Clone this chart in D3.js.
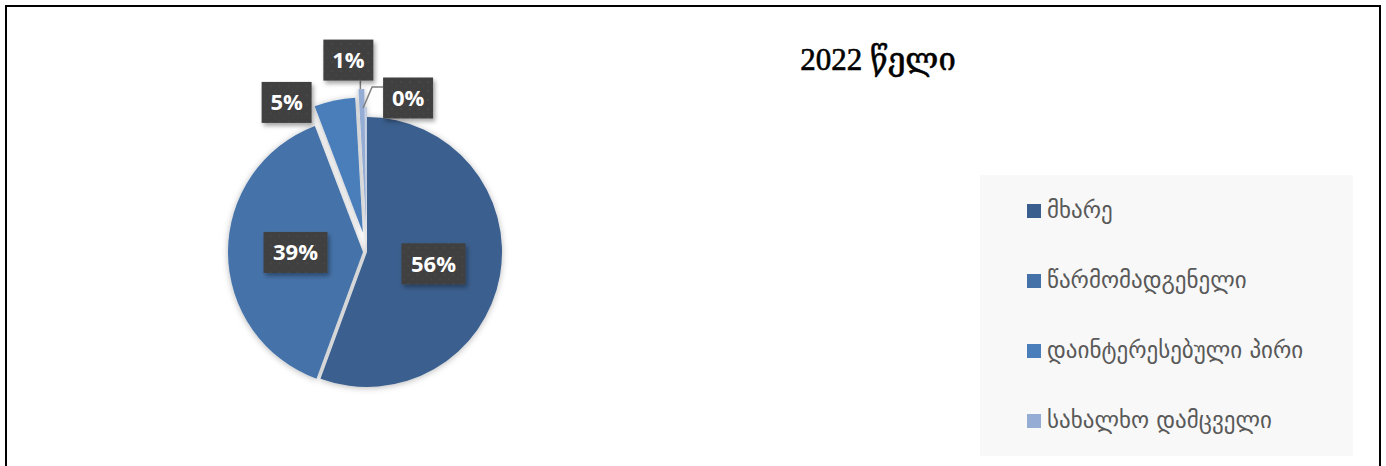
<!DOCTYPE html>
<meta charset="utf-8">
<title>2022 წელი</title>
<script src="https://d3js.org/d3.v7.min.js"></script>
<style>
  body { margin: 0; background: #fff; }
</style>
<body>
<svg width="1386" height="466"></svg>
<script>

  // chart data (shares in percent)
  var title = "2022 წელი";
  var categories = ["მხარე", "წარმომადგენელი", "დაინტერესებული პირი", "სახალხო დამცველი", ""];
  var values = [55.6, 38.6, 4.9, 0.7, 0.2];
  var legendNames = categories.slice(0, 4);

  var colors = ["#3a5f8e", "#4472a8", "#4a7ebb", "#95acd4", "#b9c7e2"];
  var explode = [0, 4, 20, 28, 10];

  var svg = d3.select("svg");
  var defs = svg.append("defs");

  // soft shadow under the pie
  var pieShadow = defs.append("filter").attr("id", "pieShadow")
      .attr("x", "-20%").attr("y", "-20%").attr("width", "140%").attr("height", "140%");
  pieShadow.append("feDropShadow")
      .attr("dx", 0).attr("dy", 1).attr("stdDeviation", 3)
      .attr("flood-color", "#000").attr("flood-opacity", 0.28);

  var boxShadow = defs.append("filter").attr("id", "boxShadow")
      .attr("x", "-30%").attr("y", "-30%").attr("width", "160%").attr("height", "160%");
  boxShadow.append("feDropShadow")
      .attr("dx", 2).attr("dy", 3).attr("stdDeviation", 2)
      .attr("flood-color", "#000").attr("flood-opacity", 0.35);

  // dotted texture for the label boxes
  var pat = defs.append("pattern").attr("id", "dots")
      .attr("patternUnits", "userSpaceOnUse").attr("width", 9).attr("height", 9);
  pat.append("rect").attr("width", 9).attr("height", 9).attr("fill", "#3f3f3f");
  pat.append("circle").attr("cx", 2).attr("cy", 2).attr("r", 1).attr("fill", "#4b4b4b");
  pat.append("circle").attr("cx", 6.5).attr("cy", 6.5).attr("r", 1).attr("fill", "#474747");

  // outer frame
  svg.append("rect")
      .attr("x", 6).attr("y", 6).attr("width", 1374).attr("height", 480)
      .attr("fill", "none").attr("stroke", "#000").attr("stroke-width", 2);

  // title
  svg.append("text")
      .attr("x", 878).attr("y", 70)
      .attr("text-anchor", "middle")
      .style("font-family", "'Liberation Serif', 'DejaVu Serif', serif")
      .style("font-size", "31px")
      .attr("fill", "#000")
      .attr("stroke", "#000")
      .attr("stroke-width", 0.6)
      .text(title);

  // pie
  var cx = 367, cy = 252, R = 135;
  var pie = d3.pie().sort(null).value(function(d) { return d; });
  var arcs = pie(values);
  var arc = d3.arc().innerRadius(0).outerRadius(R);

  function mid(d) { return (d.startAngle + d.endAngle) / 2; }
  function offset(d, i) {
    var a = mid(d);
    return [Math.sin(a) * explode[i], -Math.cos(a) * explode[i]];
  }

  var g = svg.append("g").attr("transform", "translate(" + cx + "," + cy + ")");

  g.append("g")
      .attr("filter", "url(#pieShadow)")
    .selectAll("path")
    .data(arcs)
    .enter().append("path")
      .attr("transform", function(d, i) { return "translate(" + offset(d, i) + ")"; })
      .attr("d", arc)
      .attr("fill", function(d, i) { return colors[i]; });

  // labels
  var labelArc = d3.arc().innerRadius(R * 0.5).outerRadius(R * 0.5);
  var labelNudge = { 2: [-48, 2], 3: [-13, -29], 4: [42, -9] };

  var labels = arcs.map(function(d, i) {
    var o = offset(d, i), a = mid(d);
    var text = Math.round(values[i]) + "%";
    var w = text.length > 2 ? 64 : 50, h = 41;
    if (labelNudge[i]) {
      var ax = o[0] + Math.sin(a) * R, ay = o[1] - Math.cos(a) * R;
      return { text: text, w: w, h: h, x: ax + labelNudge[i][0], y: ay + labelNudge[i][1], ax: ax, ay: ay, i: i };
    }
    var c = labelArc.centroid(d);
    return { text: text, w: w, h: h, x: c[0] + o[0], y: c[1] + o[1], i: i };
  });

  // leader lines
  labels.forEach(function(l) {
    var pts = null;
    if (l.i === 3) pts = [[l.ax - 1, l.ay], [l.ax - 1, l.y + l.h / 2]];
    if (l.i === 4) pts = [[l.ax - 3, l.ay + 1], [l.ax + 6, l.y - 11], [l.x - l.w / 2, l.y - 11]];
    if (pts) {
      g.append("path")
          .attr("d", d3.line()(pts))
          .attr("fill", "none")
          .attr("stroke", "#7f7f7f")
          .attr("stroke-width", 1.5);
    }
  });

  var lab = g.selectAll(".lab")
    .data(labels)
    .enter().append("g")
      .attr("class", "lab")
      .attr("transform", function(d) { return "translate(" + d.x + "," + d.y + ")"; });

  lab.append("rect")
      .attr("x", function(d) { return -d.w / 2; })
      .attr("y", function(d) { return -d.h / 2; })
      .attr("width", function(d) { return d.w; })
      .attr("height", function(d) { return d.h; })
      .attr("fill", "url(#dots)")
      .attr("filter", "url(#boxShadow)");

  lab.append("text")
      .attr("text-anchor", "middle")
      .attr("dy", "0.36em")
      .style("font-family", "'Open Sans', 'DejaVu Sans', sans-serif")
      .style("font-weight", "bold")
      .style("font-size", "22px")
      .attr("fill", "#fff")
      .text(function(d) { return d.text; });

  // legend
  svg.append("rect")
      .attr("x", 980).attr("y", 175).attr("width", 373).attr("height", 281)
      .attr("fill", "#f8f8f8");

  var legend = svg.selectAll(".legend")
    .data(legendNames)
    .enter().append("g")
      .attr("class", "legend")
      .attr("transform", function(d, i) { return "translate(1027," + (211 + i * 70) + ")"; });

  legend.append("rect")
      .attr("x", 0).attr("y", -7)
      .attr("width", 14).attr("height", 14)
      .attr("fill", function(d, i) { return colors[i]; });

  legend.append("text")
      .attr("x", 20).attr("y", 7)
      .style("font-family", "'DejaVu Sans', sans-serif")
      .style("font-size", "23px")
      .attr("fill", "#595959")
      .text(function(d) { return d; });

</script>
</body>
